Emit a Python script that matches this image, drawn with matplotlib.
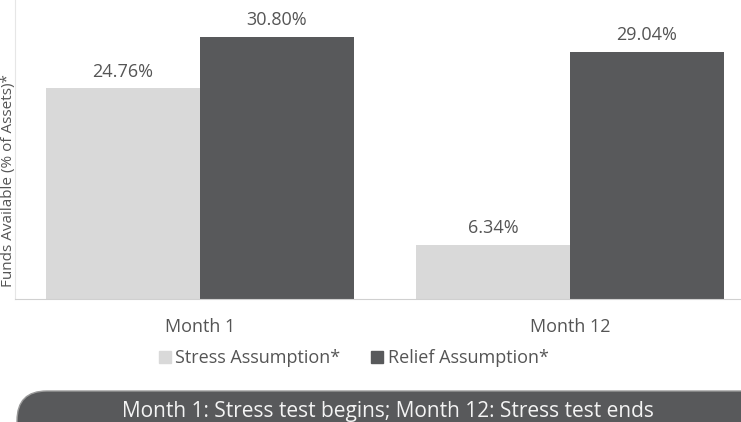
import matplotlib.pyplot as plt
from matplotlib.patches import FancyBboxPatch
from matplotlib.lines import Line2D

plt.rcParams['font.family'] = ['Open Sans', 'DejaVu Sans']

months = ['Month 1', 'Month 12']
stress = [24.76, 6.34]
relief = [30.80, 29.04]
series_names = ['Stress Assumption*', 'Relief Assumption*']
y_title = 'Funds Available (% of Assets)*'
banner_text = 'Month 1: Stress test begins; Month 12: Stress test ends'

light = '#d9d9d9'
dark = '#58595b'
text_col = '#555555'

W, H = 741, 422
fig = plt.figure(figsize=(W / 100, H / 100), dpi=100)

# axes box in pixels: left 15, baseline 299, top 0, right edge of image
ax = fig.add_axes([15 / W, 1 - 299 / H, 1 - 15 / W, 299 / H])
x = list(range(len(months)))
bw = 0.416
ax.bar([i - bw / 2 for i in x], stress, width=bw, color=light)
ax.bar([i + bw / 2 for i in x], relief, width=bw, color=dark)

for i in x:
    ax.text(i - bw / 2, stress[i] + 0.9, f'{stress[i]:.2f}%', ha='center', va='bottom',
            fontsize=13, color=text_col)
    ax.text(i + bw / 2, relief[i] + 0.9, f'{relief[i]:.2f}%', ha='center', va='bottom',
            fontsize=13, color=text_col)

ax.set_xlim(-0.5, 1.462)
ax.set_ylim(0, 35.13)
ax.set_yticks([])
ax.set_xticks(x)
ax.set_xticklabels(months, fontsize=13, color=text_col)
ax.tick_params(axis='x', length=0, pad=14)
for s in ['top', 'right']:
    ax.spines[s].set_visible(False)
ax.spines['bottom'].set_color('#d0d0d0')
ax.spines['left'].set_color('#e6e6e6')

fig.text(9 / W, 1 - 181 / H, y_title, rotation=90, ha='center', va='center',
         fontsize=11, color=text_col)

handles = [Line2D([], [], marker='s', linestyle='none', markersize=9, color=light),
           Line2D([], [], marker='s', linestyle='none', markersize=9, color=dark)]
leg = fig.legend(handles, series_names, loc='center', bbox_to_anchor=(352 / W, 1 - 358 / H),
                 ncol=2, frameon=False, fontsize=13, handletextpad=0.1, columnspacing=1.5,
                 handlelength=1.0)
for t in leg.get_texts():
    t.set_color(text_col)

# banner at the bottom
banner = FancyBboxPatch((17 / W, -0.2), 1.2, (1 - 391 / H) + 0.2,
                        boxstyle='round,pad=0,rounding_size=0.04',
                        transform=fig.transFigure, facecolor=dark, edgecolor='#9a9a9a',
                        linewidth=1.0, mutation_aspect=W / H)
fig.patches.append(banner)
fig.text(388 / W, 1 - 411 / H, banner_text, ha='center', va='center',
         fontsize=15, color='#f4f4f4')

fig.savefig('out.png', dpi=100)
